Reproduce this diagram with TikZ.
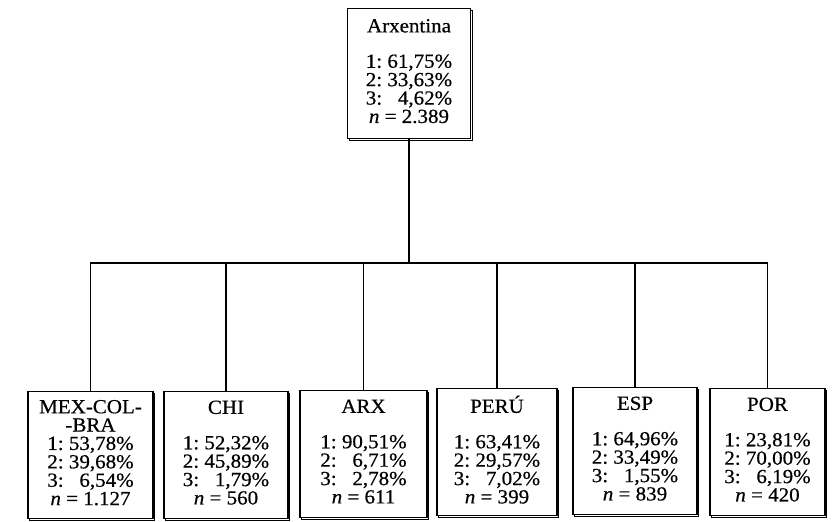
\documentclass[tikz,border=0pt]{standalone}
\usepackage{fontspec}
\setmainfont{Liberation Serif}[FakeStretch=1.05, FakeBold=0.5]
\usepackage{tikz}
\usetikzlibrary{positioning,shadows}
\tikzset{
	caixa/.style={draw, fill=white, line width=1.2pt, inner sep=0pt,
		minimum width=#1, minimum height=127pt, anchor=north,
		copy shadow={shadow xshift=1.6pt, shadow yshift=-1.6pt}},
	caixa/.default=124pt,
	liña/.style={line width=1.2pt}
}
\newcommand{\dat}[6]{\begin{tabular}{@{}l@{\ }r@{}}
		\multicolumn{2}{c}{\makebox[0pt]{#1}}\\ \multicolumn{2}{c}{\makebox[0pt]{#2}}\\
		1: & #3\% \\ 2: & #4\% \\ 3: & #5\% \\
		\multicolumn{2}{c}{\makebox[0pt]{\textit{n} = #6}}
	\end{tabular}}

\begin{document}
\begin{tikzpicture}[x=1pt, y=1pt, font=\fontsize{20}{17}\selectfont]
	\useasboundingbox (0,0) rectangle (833,522);
	\node[caixa=123pt, minimum height=130pt] (arg) at (409,514) {\dat{Arxentina}{}{61,75}{33,63}{4,62}{2.389}};
	
	\node[caixa=125pt] (mex) at (90.5,131) {\dat{MEX-COL-}{-BRA}{53,78}{39,68}{6,54}{1.127}};
	\node[caixa] (chi) at (226,131) {\dat{CHI}{}{52,32}{45,89}{1,79}{560}};
	\node[caixa=127pt] (arx) at (363.5,132) {\dat{ARX}{}{90,51}{6,71}{2,78}{611}};
	\node[caixa=120pt] (peru) at (497,134) {\dat{PERÚ}{}{63,41}{29,57}{7,02}{399}};
	\node[caixa] (esp) at (635,135) {\dat{ESP}{}{64,96}{33,49}{1,55}{839}};
	\node[caixa=115pt] (por) at (767.5,134) {\dat{POR}{}{23,81}{70,00}{6,19}{420}};
	
	\coordinate (bus) at (arg.south |- 0,259);
	\draw[liña] (arg.south) -- (bus);
	\foreach \f in {mex,chi,arx,peru,esp,por}
		\draw[liña] (\f.north) |- (bus);
\end{tikzpicture}
\end{document}
